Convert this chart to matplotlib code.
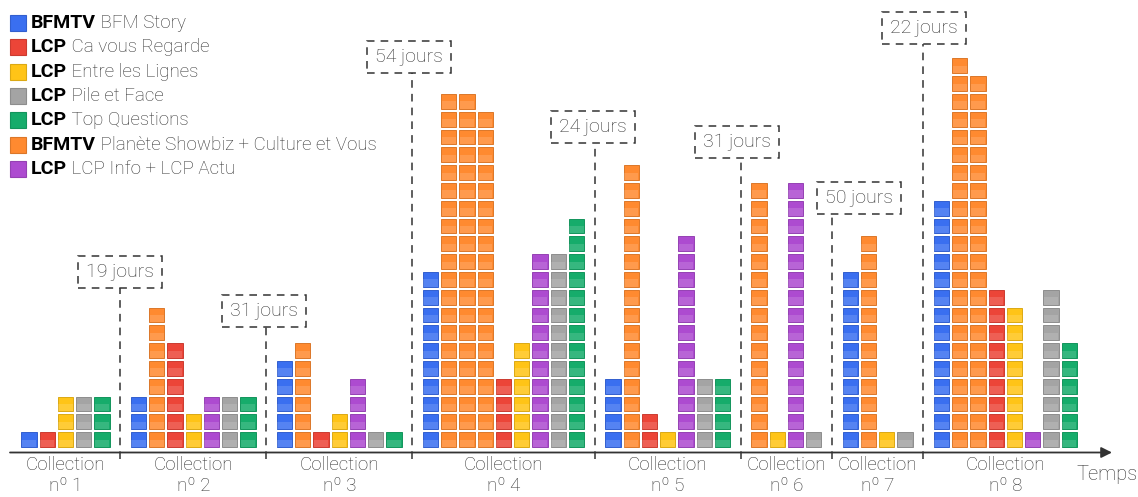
import matplotlib
matplotlib.use("Agg")
import matplotlib.pyplot as plt
from matplotlib.patches import Rectangle

# series: channel (bold) + programme name, colour
series_keys = ["story", "cvr", "edl", "pef", "tq", "showbiz", "info"]
series_channel = ["BFMTV", "LCP", "LCP", "LCP", "LCP", "BFMTV", "LCP"]
series_name = ["BFM Story", "Ca vous Regarde", "Entre les Lignes", "Pile et Face",
               "Top Questions", "Planète Showbiz + Culture et Vous", "LCP Info + LCP Actu"]
series_color = ["#3a6ff0", "#ec4538", "#ffc417", "#a4a4a4", "#16ac6b", "#ff8a30", "#ad4bd0"]

# columns of each collection (series key) and number of blocks in each column
c1_series = ["story", "cvr", "edl", "pef", "tq"]
c1_counts = [1, 1, 3, 3, 3]
c2_series = ["story", "showbiz", "cvr", "edl", "info", "pef", "tq"]
c2_counts = [3, 8, 6, 2, 3, 3, 3]
c3_series = ["story", "showbiz", "cvr", "edl", "info", "pef", "tq"]
c3_counts = [5, 6, 1, 2, 4, 1, 1]
c4_series = ["story", "showbiz", "showbiz", "showbiz", "cvr", "edl", "info", "pef", "tq"]
c4_counts = [10, 20, 20, 19, 4, 6, 11, 11, 13]
c5_series = ["story", "showbiz", "cvr", "edl", "info", "pef", "tq"]
c5_counts = [4, 16, 2, 1, 12, 4, 4]
c6_series = ["showbiz", "edl", "info", "pef"]
c6_counts = [15, 1, 15, 1]
c7_series = ["story", "showbiz", "edl", "pef"]
c7_counts = [10, 12, 1, 1]
c8_series = ["story", "showbiz", "showbiz", "cvr", "edl", "info", "pef", "tq"]
c8_counts = [14, 22, 21, 9, 8, 1, 9, 6]

collection_labels = ["Collection\nnº %d" % i for i in range(1, 9)]
gap_labels = ["19 jours", "31 jours", "54 jours", "24 jours", "31 jours", "50 jours", "22 jours"]

all_series = [c1_series, c2_series, c3_series, c4_series, c5_series, c6_series, c7_series, c8_series]
all_counts = [c1_counts, c2_counts, c3_counts, c4_counts, c5_counts, c6_counts, c7_counts, c8_counts]

W, H = 1138, 497
fig = plt.figure(figsize=(W / 100, H / 100), dpi=100)
ax = fig.add_axes([0, 0, 1, 1])
ax.axis("off")

# pixel -> data helpers (one data unit = one block)
def dx(px):
    return (px - 29) / 18.25

def dy(py):
    return (448.5 - py) / 17.8

ax.set_xlim(dx(0), dx(W))
ax.set_ylim(dy(H), dy(0))

FONT = ["Roboto", "Liberation Sans", "DejaVu Sans"]
LIGHT = "light"
GREY = "#333333"
color_of = dict(zip(series_keys, series_color))

def darker(c, f=0.86):
    r, g, b = matplotlib.colors.to_rgb(c)
    return (r * f, g * f, b * f)

# blocks
col = 0
dividers = []
centers = []
for k, (ser, cnt) in enumerate(zip(all_series, all_counts)):
    start = col
    for s, n in zip(ser, cnt):
        c = color_of[s]
        for j in range(n):
            ax.bar(col, 0.84, bottom=j + 0.08, width=0.83, color=c,
                   edgecolor=darker(c), linewidth=0.7)
            ax.bar(col, 0.42, bottom=j + 0.08, width=0.78, color="white",
                   alpha=0.14, linewidth=0)
        col += 1
    centers.append((start + col - 1) / 2)
    if k < len(all_series) - 1:
        dividers.append(col)
        col += 1

# time axis
ay = dy(452.5)
ax.annotate("", xy=(dx(1112), ay), xytext=(dx(10), ay),
            arrowprops=dict(arrowstyle="-|>", color="#333333", lw=1.3,
                            mutation_scale=16, shrinkA=0, shrinkB=0))
ax.text(dx(1107), dy(475), "Temps", fontsize=14.5, color=GREY, family=FONT,
        fontweight=LIGHT, ha="center", va="center")

for cx, lab in zip(centers, collection_labels):
    ax.text(cx, dy(495), lab, fontsize=13.5, color=GREY, family=FONT,
            fontweight=LIGHT, ha="center", va="bottom", linespacing=1.2)

# gap boxes: (left px, top px) for each divider
box_px = [(78, 256), (222, 295), (367, 41), (551, 111), (695, 126), (817, 182), (882, 12)]
bw, bh = 84 / 18.25, 32 / 17.8
for d, lab, (bl, bt) in zip(dividers, gap_labels, box_px):
    x0, y1 = dx(bl), dy(bt)
    ax.add_patch(Rectangle((x0, y1 - bh), bw, bh, fill=False, edgecolor="#333333",
                           linestyle=(0, (5, 4)), linewidth=1.1))
    ax.text(x0 + bw / 2, y1 - bh / 2, lab, fontsize=14, color=GREY, family=FONT,
            fontweight=LIGHT, ha="center", va="center")
    ax.plot([d, d], [dy(459), y1 - bh], color="#333333", linestyle=(0, (5, 4)),
            linewidth=1.1)

# legend
row_y = [23, 47, 72, 96, 120, 145, 169]
for ch, name, c, py in zip(series_channel, series_name, series_color, row_y):
    ax.add_patch(Rectangle((dx(10), dy(py + 8)), 16 / 18.25, 16 / 17.8,
                           facecolor=c, edgecolor=darker(c), linewidth=0.8))
    t = ax.text(dx(31), dy(py), ch, fontsize=14, fontweight="bold", color="black",
                family=FONT, ha="left", va="center")
    ax.annotate(" " + name, xy=(1, 0.5), xycoords=t, fontsize=13.5, color=GREY,
                family=FONT, fontweight=LIGHT, ha="left", va="center")

fig.savefig("out.png", dpi=100)
